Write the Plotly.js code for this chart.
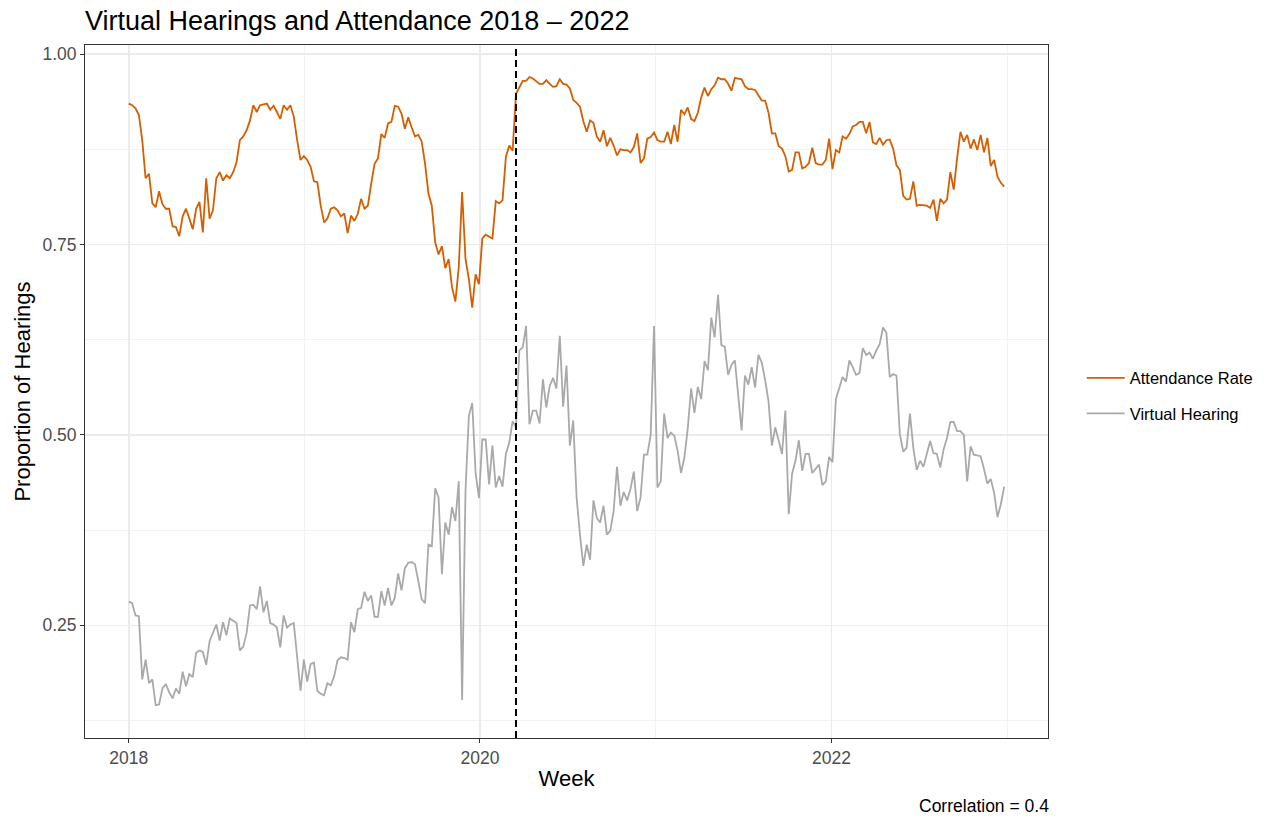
<!DOCTYPE html>
<html>
<head>
<meta charset="utf-8">
<script src="https://cdn.plot.ly/plotly-3.0.1.min.js"></script>
<style>
html,body{margin:0;padding:0;background:#fff;}
#chart{width:1284px;height:821px;}
</style>
</head>
<body>
<div id="chart"></div>
<script>
// Weekly series, first week 2018-01-01
const startWeek = '2018-01-01';
const attendanceRate = [
0.935,0.933,0.929,0.920,0.887,0.837,0.843,0.804,0.799,0.820,
0.803,0.797,0.797,0.774,0.773,0.761,0.787,0.797,0.784,0.770,
0.797,0.806,0.766,0.837,0.784,0.795,0.837,0.845,0.834,0.841,
0.837,0.845,0.858,0.887,0.892,0.900,0.913,0.933,0.924,0.933,
0.934,0.935,0.927,0.932,0.924,0.915,0.933,0.927,0.933,0.918,
0.887,0.861,0.866,0.861,0.852,0.833,0.832,0.801,0.779,0.784,
0.797,0.799,0.795,0.787,0.791,0.765,0.788,0.781,0.790,0.810,
0.797,0.801,0.830,0.856,0.863,0.895,0.890,0.909,0.911,0.932,
0.931,0.922,0.902,0.917,0.904,0.892,0.894,0.885,0.856,0.817,
0.801,0.753,0.737,0.748,0.719,0.731,0.694,0.675,0.720,0.819,
0.731,0.705,0.667,0.711,0.698,0.758,0.763,0.760,0.758,0.807,
0.804,0.808,0.865,0.880,0.873,0.948,0.957,0.965,0.965,0.970,
0.968,0.964,0.961,0.961,0.966,0.961,0.957,0.958,0.967,0.961,
0.960,0.955,0.940,0.936,0.931,0.912,0.898,0.913,0.910,0.892,
0.885,0.900,0.879,0.890,0.880,0.867,0.875,0.874,0.874,0.871,
0.878,0.896,0.857,0.863,0.889,0.891,0.897,0.887,0.885,0.885,
0.898,0.882,0.907,0.885,0.927,0.921,0.930,0.915,0.912,0.923,
0.943,0.956,0.945,0.954,0.959,0.969,0.967,0.967,0.961,0.952,
0.969,0.968,0.967,0.958,0.954,0.954,0.953,0.946,0.939,0.939,
0.923,0.896,0.896,0.879,0.876,0.866,0.846,0.848,0.871,0.871,
0.850,0.852,0.857,0.877,0.857,0.855,0.855,0.861,0.889,0.849,
0.874,0.871,0.892,0.889,0.895,0.905,0.907,0.911,0.911,0.896,
0.911,0.884,0.882,0.890,0.881,0.887,0.888,0.876,0.854,0.848,
0.814,0.809,0.810,0.833,0.801,0.802,0.801,0.801,0.798,0.809,
0.781,0.810,0.804,0.809,0.845,0.822,0.863,0.898,0.885,0.894,
0.876,0.888,0.874,0.894,0.871,0.890,0.853,0.861,0.839,0.831,
0.826];
const virtualHearing = [
0.281,0.279,0.263,0.262,0.179,0.205,0.174,0.179,0.145,0.146,
0.167,0.173,0.162,0.154,0.167,0.160,0.189,0.170,0.186,0.182,
0.214,0.217,0.215,0.198,0.229,0.241,0.251,0.230,0.254,0.237,
0.259,0.256,0.253,0.217,0.222,0.240,0.276,0.277,0.271,0.301,
0.267,0.282,0.253,0.251,0.247,0.221,0.263,0.247,0.251,0.253,
0.208,0.164,0.205,0.176,0.199,0.201,0.164,0.160,0.158,0.174,
0.171,0.183,0.204,0.208,0.207,0.205,0.254,0.241,0.271,0.273,
0.294,0.282,0.289,0.261,0.261,0.295,0.276,0.299,0.276,0.286,
0.318,0.296,0.325,0.332,0.333,0.330,0.308,0.284,0.279,0.356,
0.354,0.430,0.418,0.317,0.385,0.369,0.405,0.387,0.439,0.152,
0.426,0.525,0.542,0.450,0.417,0.494,0.494,0.435,0.486,0.431,
0.446,0.432,0.475,0.490,0.518,0.510,0.611,0.615,0.643,0.514,
0.532,0.532,0.515,0.573,0.536,0.564,0.575,0.561,0.630,0.537,
0.591,0.486,0.519,0.418,0.369,0.328,0.356,0.336,0.414,0.391,
0.385,0.407,0.369,0.374,0.400,0.458,0.407,0.425,0.414,0.429,
0.452,0.400,0.418,0.474,0.474,0.500,0.643,0.431,0.439,0.528,
0.496,0.503,0.499,0.479,0.450,0.470,0.508,0.561,0.529,0.563,
0.547,0.597,0.585,0.654,0.628,0.684,0.618,0.616,0.579,0.592,
0.598,0.554,0.506,0.578,0.566,0.589,0.562,0.605,0.595,0.572,
0.544,0.486,0.510,0.493,0.475,0.532,0.396,0.449,0.466,0.493,
0.453,0.475,0.475,0.450,0.455,0.461,0.434,0.439,0.471,0.464,
0.547,0.561,0.576,0.570,0.598,0.589,0.579,0.581,0.614,0.605,
0.608,0.600,0.611,0.619,0.641,0.634,0.576,0.580,0.578,0.501,
0.478,0.483,0.528,0.483,0.454,0.466,0.458,0.475,0.492,0.476,
0.475,0.457,0.481,0.496,0.517,0.517,0.505,0.505,0.500,0.439,
0.485,0.474,0.473,0.472,0.455,0.436,0.442,0.424,0.392,0.409,
0.432];
const seriesNames = ['Attendance Rate', 'Virtual Hearing'];
const xTickVals = ['2018-01-01', '2020-01-01', '2022-01-01'];
const xTickText = ['2018', '2020', '2022'];
const xMinorVals = ['2019-01-01', '2021-01-01', '2023-01-01'];
const yTickVals = [0.25, 0.50, 0.75, 1.00];
const yTickText = ['0.25', '0.50', '0.75', '1.00'];
const yMinorVals = [0.125, 0.375, 0.625, 0.875];
const eventDate = '2020-03-16';
const captionText = 'Correlation = 0.4';

function isoDay(d){ return d.toISOString().slice(0,10); }
const t0 = Date.parse(startWeek + 'T00:00:00Z');
const weeks = attendanceRate.map((_, i) => isoDay(new Date(t0 + i*7*86400000)));
const xMin = isoDay(new Date(t0 - 91*86400000));
const xMax = isoDay(new Date(t0 + (weeks.length-1)*7*86400000 + 91*86400000));

const traces = [
  {x: weeks, y: attendanceRate, name: seriesNames[0], type: 'scatter', mode: 'lines',
   line: {color: '#D55E00', width: 1.8}, legendgroup: 'a'},
  {x: weeks, y: virtualHearing, name: seriesNames[1], type: 'scatter', mode: 'lines',
   line: {color: '#A9A9A9', width: 1.8}, legendgroup: 'b'}
];

const font = 'Liberation Sans, Arial, sans-serif';
const layout = {
  width: 1284, height: 821,
  margin: {l: 85, r: 236, t: 45, b: 83},
  paper_bgcolor: '#fff', plot_bgcolor: '#fff',
  font: {family: font, color: '#000'},
  title: {text: 'Virtual Hearings and Attendance 2018 \u2013 2022', x: 85/1284, xanchor: 'left',
          xref: 'container', y: 1 - 21/821, yref: 'container', yanchor: 'middle',
          font: {size: 27, family: font, color: '#000'}},
  xaxis: {
    type: 'date', range: [xMin, xMax],
    tickmode: 'array', tickvals: xTickVals, ticktext: xTickText,
    ticks: 'outside', ticklen: 4, tickcolor: '#333', tickwidth: 1,
    tickfont: {size: 17.5, color: '#4D4D4D', family: font},
    showgrid: true, gridcolor: '#EBEBEB', gridwidth: 1.5,
    minor: {tickmode: 'array', tickvals: xMinorVals, showgrid: true, gridcolor: '#EFEFEF', gridwidth: 0.8, ticks: ''},
    showline: true, mirror: true, linecolor: '#333', linewidth: 1,
    zeroline: false,
    title: {text: 'Week', font: {size: 22, color: '#000', family: font}, standoff: 3}
  },
  yaxis: {
    range: [0.102, 1.012],
    tickmode: 'array', tickvals: yTickVals, ticktext: yTickText,
    ticks: 'outside', ticklen: 4, tickcolor: '#333', tickwidth: 1,
    tickfont: {size: 17.5, color: '#4D4D4D', family: font},
    showgrid: true, gridcolor: '#EBEBEB', gridwidth: 1.5,
    minor: {tickmode: 'array', tickvals: yMinorVals, showgrid: true, gridcolor: '#EFEFEF', gridwidth: 0.8, ticks: ''},
    showline: true, mirror: true, linecolor: '#333', linewidth: 1,
    zeroline: false,
    title: {text: 'Proportion of Hearings', font: {size: 22, color: '#000', family: font}, standoff: 5}
  },
  legend: {x: 1.035, xanchor: 'left', y: 0.494, yanchor: 'middle',
           font: {size: 16.5, color: '#000', family: font}, bgcolor: 'rgba(0,0,0,0)',
           traceorder: 'grouped', tracegroupgap: 11, itemwidth: 38},
  shapes: [{type: 'line', xref: 'x', yref: 'paper', x0: eventDate, x1: eventDate, y0: 0, y1: 1,
            line: {color: '#000', width: 2, dash: '7px,4px'}}],
  annotations: [{text: captionText, xref: 'paper', yref: 'paper', x: 1 + 3/963, xanchor: 'right',
                 y: -0.098, yanchor: 'middle', showarrow: false,
                 font: {size: 17.5, color: '#000', family: font}}],
  showlegend: true
};

Plotly.newPlot('chart', traces, layout, {displayModeBar: false, staticPlot: true});
</script>
</body>
</html>
